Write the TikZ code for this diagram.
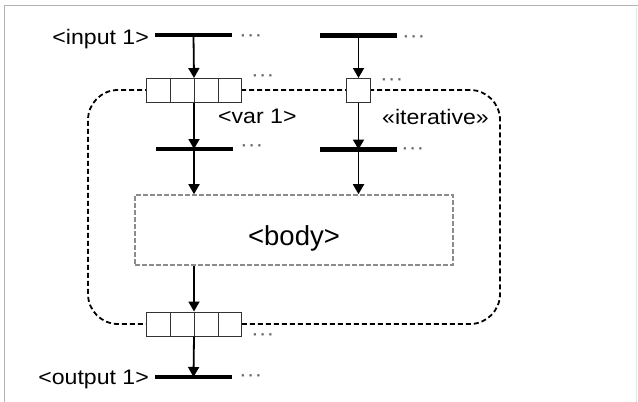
\documentclass[tikz,border=0pt]{standalone}
\usepackage{fontspec}
\setmainfont{Liberation Sans}
\newfontfamily\lab[FakeStretch=1.1]{Liberation Sans}
\usetikzlibrary{arrows.meta,calc}
\begin{document}
\begin{tikzpicture}[x=1pt,y=-1pt,
 bar/.style={fill=black, minimum width=77pt, minimum height=4.5pt, inner sep=0pt, draw=none},
 arr/.style={line width=1.8pt, -{Triangle[length=10pt,width=11pt]}},
 cell/.style={draw=black!80, line width=1pt, fill=white, minimum width=95pt, minimum height=24pt, inner sep=0pt},
 icell/.style={draw=black!80, line width=1pt, fill=white, minimum width=24pt, minimum height=24pt, inner sep=0pt},
 txt/.style={font=\lab\fontsize{21}{24}\selectfont, inner sep=0pt},
 dots/.style={font=\lab\fontsize{21}{24}\selectfont, text=black!60, inner sep=0pt, anchor=base west},
 loopbox/.style={draw=black, line width=1.8pt, dash pattern=on 5pt off 3pt, rounded corners=30pt, minimum width=412pt, minimum height=234pt, inner sep=0pt},
 bodybox/.style={draw=black!45, line width=1.6pt, dash pattern=on 5pt off 2pt, minimum width=318pt, minimum height=70pt, inner sep=0pt}]
\useasboundingbox (0,0) rectangle (638,402);
\draw[black!30, line width=1pt] (4.5,402) -- (4.5,5) -- (638,5);
\draw[black!10, line width=1pt] (636,8) -- (636,402);

\node[loopbox] (loop) at (294,207) {};
\node[bodybox] (body) at (294,230) {};
\node[inner sep=0pt, font=\fontsize{27.5}{30}\selectfont, anchor=base] (bodylab) at (294,245) {<body>};

\node[bar] (in1) at (193.5,35) {};
\node[bar] (in2) at (358.5,35.5) {};
\node[bar] (m1) at (194,149) {};
\node[bar] (m2) at (358.5,149.5) {};
\node[bar] (out1) at (193.5,377) {};

\node[cell] (vbox) at (194,90.5) {};
\node[icell] (ibox) at (358.5,90.5) {};
\node[cell] (obox) at (194,324) {};
\foreach \b in {vbox,obox}
  \foreach \f in {0.25,0.5,0.75}
    \draw[black!80, line width=1pt] ($(\b.north west)!\f!(\b.north east)$) -- ($(\b.south west)!\f!(\b.south east)$);

\draw[arr] (in1.center) -- (vbox.north);
\draw[arr] (vbox.south) -- (m1.center);
\draw[arr] (m1.center) -- (m1 |- body.north);
\draw[arr] (in2.center) -- (ibox.north);
\draw[arr] (ibox.south) -- (m2.center);
\draw[arr] (m2.center) -- (m2 |- body.north);
\draw[arr] (obox |- body.south) -- (obox.north);
\draw[arr] (obox.south) -- (out1.center);

\node[txt, anchor=base east] (inlab) at (149,44) {<input 1>};
\node[txt, anchor=base west] (varlab) at (218,123) {<var 1>};
\node[txt, anchor=base west] (itlab) at (382,124) {«iterative»};
\node[txt, anchor=base east] (outlab) at (149,384) {<output 1>};

\node[dots] (d1) at (239,41) {···};
\node[dots] (d2) at (402,42) {···};
\node[dots] (d3) at (251,81) {···};
\node[dots] (d4) at (380,85) {···};
\node[dots] (d5) at (240,151) {···};
\node[dots] (d6) at (401,154) {···};
\node[dots] (d7) at (251,340) {···};
\node[dots] (d8) at (239,381) {···};
\end{tikzpicture}
\end{document}
